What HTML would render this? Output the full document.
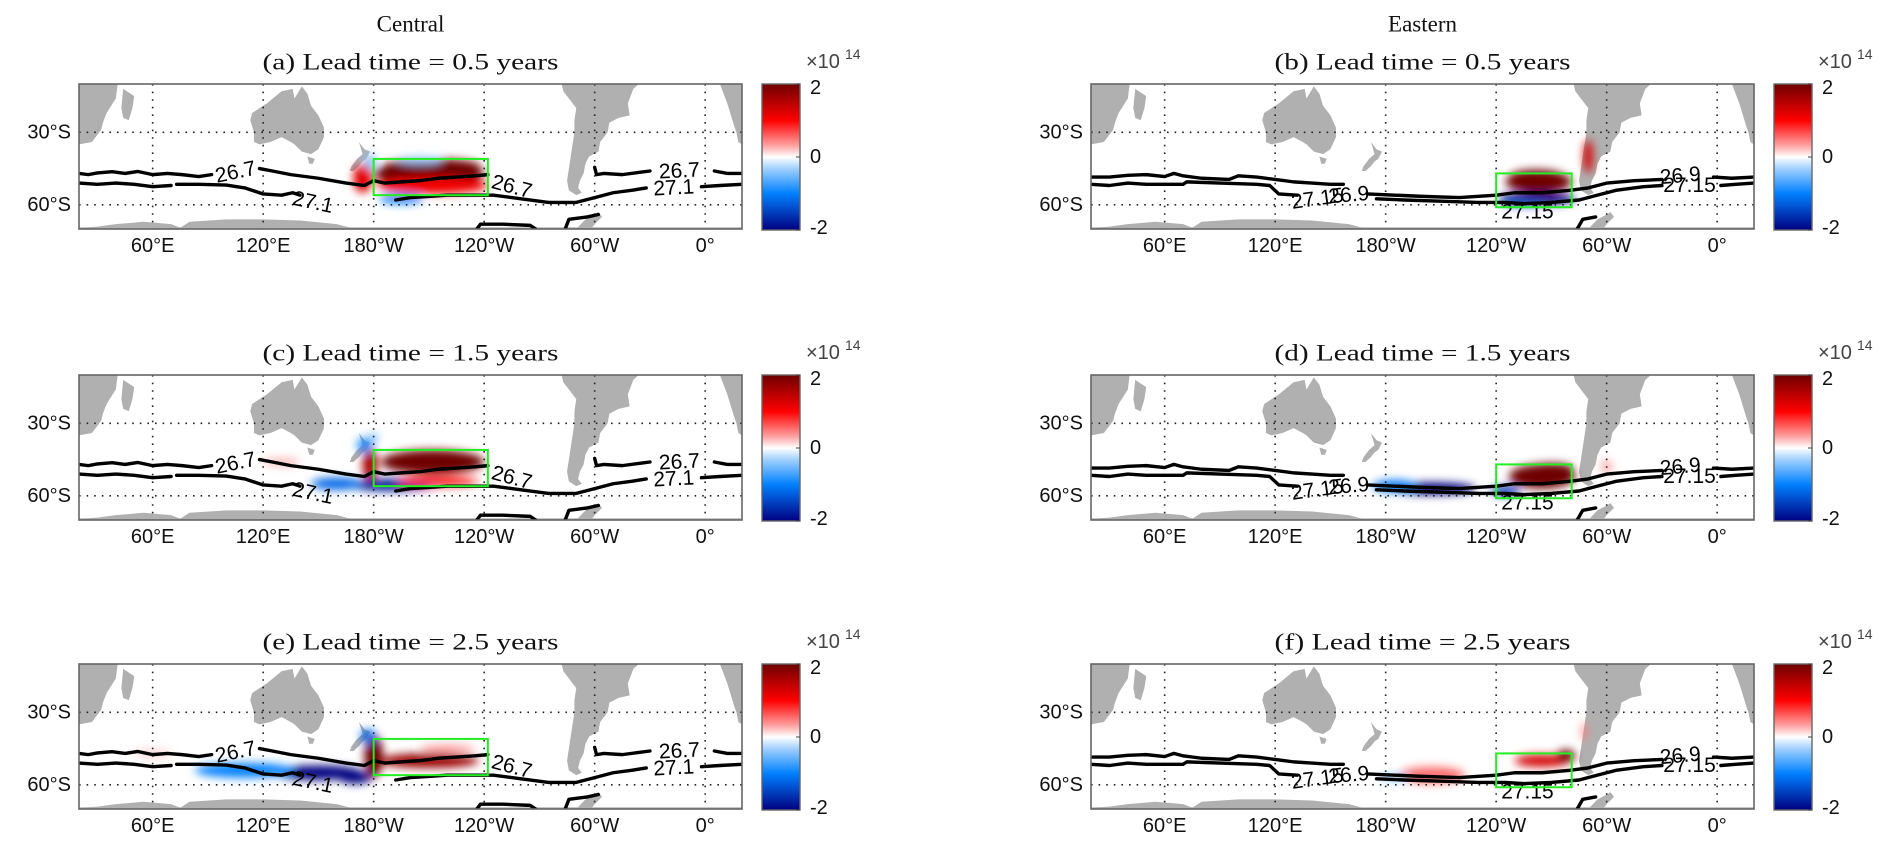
<!DOCTYPE html>
<html><head><meta charset="utf-8"><style>
html,body{margin:0;padding:0;background:#fff;width:1892px;height:854px;overflow:hidden;}
svg{display:block;font-family:"Liberation Sans",sans-serif;}
.ttl{font-family:"Liberation Serif",serif;font-size:23px;fill:#111;}
.tick{font-size:20px;fill:#111;}
</style></head><body>
<svg id="fig" width="1892" height="854" viewBox="0 0 1892 854" xmlns="http://www.w3.org/2000/svg">
<defs>
<filter id="blur" x="-50%" y="-50%" width="200%" height="200%"><feGaussianBlur stdDeviation="4.5"/></filter>
<linearGradient id="cbgrad" x1="0" y1="0" x2="0" y2="1">
<stop offset="0" stop-color="#6e0000"/><stop offset="0.25" stop-color="#ff0000"/><stop offset="0.42" stop-color="#ffa0a0"/><stop offset="0.5" stop-color="#ffffff"/><stop offset="0.58" stop-color="#a0d0ff"/><stop offset="0.75" stop-color="#0080ff"/><stop offset="1" stop-color="#000080"/>
</linearGradient>
</defs>
</svg>
<script>
const lonTicks=[60,120,180,240,300,360];
const lonTickLabels=['60°E','120°E','180°W','120°W','60°W','0°'];
const latTicks=[30,60];
const latTickLabels=['30°S','60°S'];
const cbTicks=[2,0,-2];
const cbTickLabels=['2','0','-2'];
const panelTitles=['(a) Lead time = 0.5 years','(b) Lead time = 0.5 years','(c) Lead time = 1.5 years','(d) Lead time = 1.5 years','(e) Lead time = 2.5 years','(f) Lead time = 2.5 years'];
const columnTitles=['Central','Eastern'];
const landAfricaW=[[20,10],[41,10],[40,16],[35,22],[33,26],[32,29],[30,31],[27,34],[20,35]];
const landMadagascar=[[44,12],[50,15],[49,20],[47,25],[44,24],[43,20]];
const landAfricaE=[[368,10],[380,10],[380,35],[378,34],[377,30],[376,28],[374,23],[372,18],[370,14]];
const landAustralia=[[114,22],[122,18],[130,13],[136,12],[137,16],[141,11],[144,14],[146,19],[150,23],[153,28],[153,32],[150,37],[146,39],[141,38],[137,35],[135,34],[130,32],[124,34],[118,35],[115,34],[115,30],[113,25]];
const landTasmania=[[144,40],[148,41],[147,43],[145,43]];
const landNZ=[[172,34],[175,37],[178,38],[176,41],[174,42],[172,44],[169,46],[167,46],[168,44],[171,41],[174,39]];
const landSAmerica=[[282,10],[324,10],[321,12],[318,18],[319,23],[313,24],[308,26],[307,30],[303,34],[302,38],[297,40],[295,43],[294,47],[292,50],[291,53],[293,55],[290,56],[286,54],[285,50],[286,45],[287,40],[288,35],[289,30],[289,25],[290,20],[286,16],[283,13]];
const landAntarctica=[[20,70],[20,69.5],[30,69],[40,68],[55,67],[70,68],[75,69.5],[80,67],[100,66],[120,66],[140,66.5],[160,68],[170,70]];
const landPeninsula=[[290,70],[295,66],[300,64],[302,63],[304,65],[300,68],[298,70]];
const central267=[[[20,47],[25,47.5],[30,46.8],[38,46.3],[45,47],[52,46.2],[60,47.5],[68,47],[76,47.5],[85,48.3],[92,47.5]],[[118,45],[125,46],[135,47.5],[150,49],[165,51],[175,52],[180,50],[186,51],[195,50.5],[205,50],[215,49],[225,48.5],[235,48],[242,47.5]],[[300,44.5],[301,47.5],[305,47],[315,47.5],[325,46.5],[330,46]],[[365,46],[372,47],[380,47]]];
const central271=[[[20,51],[30,51.5],[40,51],[50,51.5],[60,52.5],[70,52]],[[73,51.5],[85,51.5],[100,51.8],[110,53],[120,55.5],[130,56],[136,55],[140,56]],[[192,58],[200,57],[210,56.5],[220,56],[230,56],[245,56],[260,57.5],[275,59],[290,59],[300,57],[310,55],[320,54],[328,53]],[[358,52.5],[368,52],[380,51.5]],[[236,70],[238,68],[250,68],[265,68.5],[268,70]],[[284,70],[286,66],[296,65],[302,64]]];
const eastern269=[[[20,48.5],[30,48.5],[40,47.8],[50,47.5],[60,48.3],[65,47],[70,48],[80,49],[95,49.5],[100,48],[110,48.5],[120,49.5],[130,50.5],[140,51],[150,51.5],[157,51.5]],[[170,55.5],[185,56],[200,56.5],[220,57],[240,56],[250,55],[265,55],[280,54],[290,53],[300,51],[315,50],[330,49.5]],[[358,48.5],[368,49],[380,48.5]]];
const eastern2715=[[[20,51.5],[30,52],[40,51],[50,51.5],[60,51.5],[70,51.5],[72,50.5],[90,51],[110,51.5],[117,52],[122,55.5],[132,56]],[[175,57.5],[190,58],[210,58.5],[230,59],[245,59],[255,59.5],[270,59],[285,58],[295,56],[305,54],[320,52.5],[330,52]],[[362,52],[370,51.5],[380,51]],[[284,70],[287,66],[294,65]]];
const centralLabels=[['26.7',105,46.5,-12],['27.1',147,59,12],['26.7',255,52.5,15],['26.7',346,46,-3],['27.1',343,53,-3]];
const easternLabels=[['26.9',340,48,-5],['27.15',345,52,0],['27.15',143,57.5,-8],['26.9',160,56,-5],['27.15',257,63,0]];
const centralBox=[180,242,41,56];
const easternBox=[240,281,47,61];
const anomA=[[174,49,5,6,1.2],[210,47,30,5,2.8],[212,44,26,3,2.4],[212,52,30,3.5,1.1],[195,57.5,12,2,-1.0],[178,42,3,3,-0.5],[205,41.5,12,1.5,-0.4]];
const anomB=[[263,50.5,18,4.5,2.8],[262,48,14,2.5,2.4],[290,40,2.5,7,1.3],[262,57.5,21,2.5,-2.4],[255,59,12,1.5,-1.5]];
const anomC=[[212,46,28,5,2.8],[178,47,4,7,1.6],[190,55.5,24,2.5,-1.8],[160,55,14,2.5,-1.2],[175,39,4,3,-0.9],[180,36,2,2,-0.6],[130,46,10,1.5,0.3],[215,54,22,2,0.9]];
const anomD=[[265,52,18,5,2.2],[270,49,12,2.5,2.6],[205,57,24,2.5,-2.2],[185,56,12,2.5,-1.1],[245,58,8,2,-1.6],[300,48,3,3,0.3]];
const anomE=[[180,48,5,9,2.6],[210,50,27,3,1.7],[150,55,24,3,-2.0],[110,54,27,3,-1.0],[170,57,9,2.5,-2.4],[177,40,4,3,-1.2],[220,45,15,1.5,0.4],[60,47,10,1.5,0.2]];
const anomF=[[205,56,18,3.5,0.55],[265,50,15,2.5,1.3],[278,48,5,2.5,2.4],[185,57,8,1.5,-0.4],[288,38,1.5,4,0.5]];

const NS='http://www.w3.org/2000/svg';
const svg=document.getElementById('fig');
const colX=[79,1091], rowY=[84,375,664], W=663, H=145;
const LON0=20,LON1=380,LAT0=10,LAT1=70,VMAX=2;
function mk(tag,attrs,parent){const e=document.createElementNS(NS,tag);for(const k in attrs)e.setAttribute(k,attrs[k]);(parent||svg).appendChild(e);return e;}
function cmap(v){
  const stops=[[-2,[0,0,128]],[-1,[0,128,255]],[-0.35,[160,208,255]],[0,[255,255,255]],[0.35,[255,160,160]],[1,[255,0,0]],[2,[110,0,0]]];
  v=Math.max(-2,Math.min(2,v));
  for(let i=0;i<stops.length-1;i++){const a=stops[i],b=stops[i+1];if(v<=b[0]){const t=(v-a[0])/(b[0]-a[0]);const c=a[1].map((x,j)=>Math.round(x+(b[1][j]-x)*t));return 'rgb('+c.join(',')+')';}}
  return 'rgb(110,0,0)';
}
function drawPanel(idx,col,row,anom,box,c1,c2,labels){
  const x0=colX[col],y0=rowY[row];
  const xs=lon=>x0+(lon-LON0)/(LON1-LON0)*W;
  const ys=lat=>y0+(lat-LAT0)/(LAT1-LAT0)*H;
  const g=mk('g',{});
  
  
  const cid='clip'+idx;
  const cp=mk('clipPath',{id:cid},g);mk('rect',{x:x0,y:y0,width:W,height:H},cp);
  const inner=mk('g',{'clip-path':'url(#'+cid+')'},g);
  const lands=[landAfricaW,landMadagascar,landAfricaE,landAustralia,landTasmania,landNZ,landSAmerica,landAntarctica,landPeninsula];
  const landG=mk('g',{},inner);
  
  
  lands.forEach(p=>{mk('polygon',{points:p.map(q=>xs(q[0])+','+ys(q[1])).join(' '),fill:'#b0b0b0'},landG);});
  mk('rect',{x:x0,y:ys(69.3),width:W,height:H,fill:'#b0b0b0'},landG);
  const ag=mk('g',{filter:'url(#blur)'},inner);
  
  
  anom.forEach(a=>{const e=mk('ellipse',{cx:xs(a[0]),cy:ys(a[1]),rx:a[2]*W/(LON1-LON0),ry:a[3]*H/(LAT1-LAT0),fill:cmap(a[4])},ag);
    
    });
  lonTicks.forEach(l=>{mk('line',{x1:xs(l),x2:xs(l),y1:y0,y2:y0+H,stroke:'#222','stroke-width':1.6,'stroke-dasharray':'1.6 6'},inner);});
  latTicks.forEach(l=>{mk('line',{x1:x0,x2:x0+W,y1:ys(l),y2:ys(l),stroke:'#222','stroke-width':1.6,'stroke-dasharray':'1.6 6'},inner);});
  [c1,c2].forEach(set=>set.forEach(seg=>{const p=mk('polyline',{points:seg.map(q=>xs(q[0])+','+ys(q[1])).join(' '),fill:'none',stroke:'#000','stroke-width':3.4,'stroke-linejoin':'round','stroke-linecap':'round'},inner);
    
    }));
  labels.forEach(L=>{const t=mk('text',{x:xs(L[1]),y:ys(L[2]),'text-anchor':'middle','dominant-baseline':'central','font-size':21,fill:'#000',transform:'rotate('+L[3]+' '+xs(L[1])+' '+ys(L[2])+')'},inner);t.textContent=L[0];
    
    });
  const b=mk('rect',{x:xs(box[0]),y:ys(box[2]),width:xs(box[1])-xs(box[0]),height:ys(box[3])-ys(box[2]),fill:'none',stroke:'#22ee22','stroke-width':2},inner);
  
  
  mk('rect',{x:x0,y:y0,width:W,height:H,fill:'none',stroke:'#666','stroke-width':1.6},g);
  lonTicks.forEach((l,i)=>{const t=mk('text',{x:xs(l),y:y0+H+17,'text-anchor':'middle','dominant-baseline':'central',class:'tick'},g);t.textContent=lonTickLabels[i];
    
    });
  latTicks.forEach((l,i)=>{const t=mk('text',{x:x0-8,y:ys(l),'text-anchor':'end','dominant-baseline':'central',class:'tick'},g);t.textContent=latTickLabels[i];
    
    });
  const tt=mk('text',{x:x0+W/2,y:y0-22,'text-anchor':'middle','dominant-baseline':'central',class:'ttl',textLength:296,lengthAdjust:'spacingAndGlyphs'},g);tt.textContent=panelTitles[idx];
  
  
  const cx=x0+683,cw=38;
  const cb=mk('g',{},g);
  
  
  mk('rect',{x:cx,y:y0,width:cw,height:H+1,fill:'url(#cbgrad)',stroke:'#666','stroke-width':1.4},cb);
  const cy=v=>y0+(VMAX-v)/(2*VMAX)*(H+1);
  cbTicks.forEach((v,i)=>{const t=mk('text',{x:cx+cw+10,y:cy(v)+(v==VMAX?4:v==-VMAX?-2:0),'dominant-baseline':'central',class:'tick'},cb);t.textContent=cbTickLabels[i];
    mk('line',{x1:cx+cw-4,x2:cx+cw,y1:cy(v),y2:cy(v),stroke:'#444','stroke-width':1},cb);});
  const ex=mk('text',{x:cx+44,y:y0-16,'font-size':20,fill:'#444'},cb);ex.textContent='×10';
  const sup=mk('text',{x:cx+83,y:y0-25,'font-size':14,fill:'#444'},cb);sup.textContent='14';
}
columnTitles.forEach((c,i)=>{const t=mk('text',{x:colX[i]+W/2,y:24,'text-anchor':'middle','dominant-baseline':'central',class:'ttl'});t.textContent=c;
  
  });
drawPanel(0,0,0,anomA,centralBox,central267,central271,centralLabels);
drawPanel(1,1,0,anomB,easternBox,eastern269,eastern2715,easternLabels);
drawPanel(2,0,1,anomC,centralBox,central267,central271,centralLabels);
drawPanel(3,1,1,anomD,easternBox,eastern269,eastern2715,easternLabels);
drawPanel(4,0,2,anomE,centralBox,central267,central271,centralLabels);
drawPanel(5,1,2,anomF,easternBox,eastern269,eastern2715,easternLabels);
</script>
</body></html>
